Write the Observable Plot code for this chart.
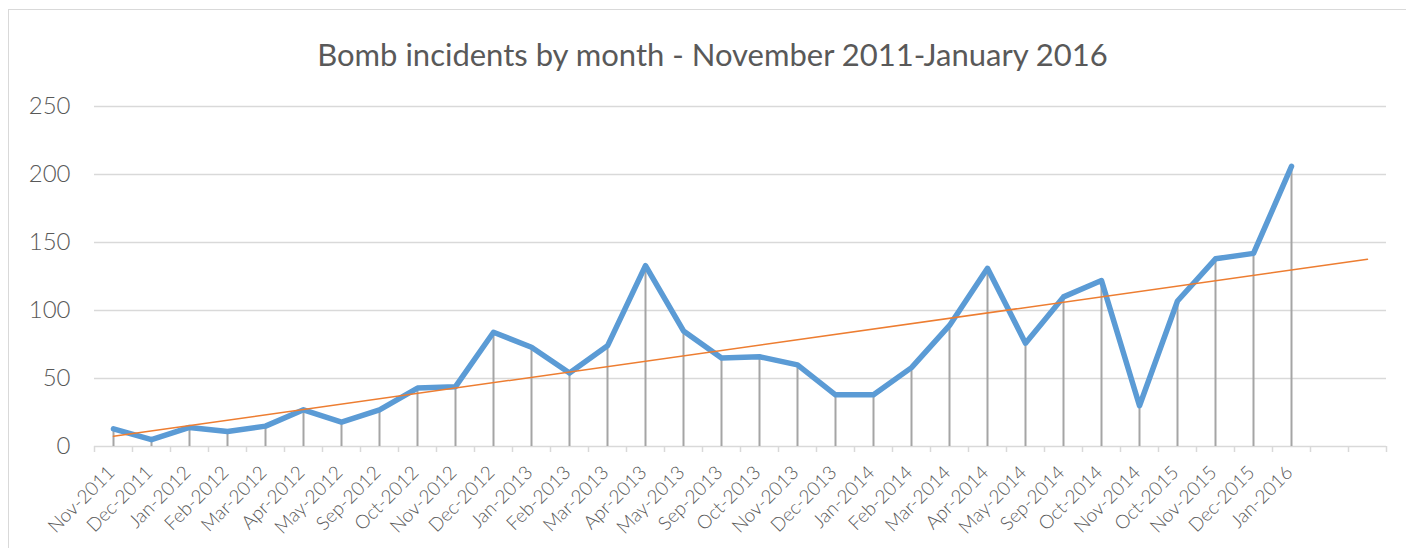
<!DOCTYPE html>
<html>
<head>
<meta charset="utf-8">
<script src="https://cdn.jsdelivr.net/npm/d3@7"></script>
<script src="https://cdn.jsdelivr.net/npm/@observablehq/plot@0.6"></script>
<style>
  html, body { margin: 0; padding: 0; background: #fff; }
  #wrap { position: relative; width: 1406px; height: 548px; overflow: hidden; }
  #frame { position: absolute; left: 8px; top: 9px; width: 1420px; height: 560px; border: 1.5px solid #d9d9d9; box-sizing: border-box; }
  #chart { position: absolute; left: 0; top: 0; }
</style>
</head>
<body>
<div id="wrap"><div id="frame"></div><div id="chart"></div></div>
<script>
const title = "Bomb incidents by month - November 2011-January 2016";
const months = ["Nov-2011","Dec-2011","Jan-2012","Feb-2012","Mar-2012","Apr-2012","May-2012","Sep-2012","Oct-2012","Nov-2012","Dec-2012","Jan-2013","Feb-2013","Mar-2013","Apr-2013","May-2013","Sep-2013","Oct-2013","Nov-2013","Dec-2013","Jan-2014","Feb-2014","Mar-2014","Apr-2014","May-2014","Sep-2014","Oct-2014","Nov-2014","Oct-2015","Nov-2015","Dec-2015","Jan-2016"];
const incidents = [13,5,14,11,15,27,18,27,43,44,84,73,54,74,133,85,65,66,60,38,38,58,89,131,76,110,122,30,107,138,142,206];
const yTicks = [0,50,100,150,200,250];
const forecastPeriods = 2;

const data = months.map((m, i) => ({i, month: m, v: incidents[i]}));
const nCats = months.length + forecastPeriods;

// least-squares trendline, extended forward like the spreadsheet's forecast
const mx = d3.mean(data, d => d.i), my = d3.mean(data, d => d.v);
const slope = d3.sum(data, d => (d.i - mx) * (d.v - my)) / d3.sum(data, d => (d.i - mx) ** 2);
const intercept = my - slope * mx;
const trend = [0, nCats - 1].map(x => ({x, y: intercept + slope * x}));

const boundaries = d3.range(nCats + 1).map(k => k - 0.5);
const font = "Lato, 'Open Sans', sans-serif";

const plot = Plot.plot({
  width: 1406,
  height: 548,
  marginLeft: 94,
  marginRight: 20,
  marginTop: 106,
  marginBottom: 102,
  style: {fontFamily: font, background: "transparent", overflow: "visible"},
  x: {domain: [-0.5, nCats - 0.5], axis: null},
  y: {domain: [0, 250], axis: null},
  marks: [
    Plot.ruleY(yTicks, {stroke: "#d9d9d9", strokeWidth: 1.5}),
    Plot.axisX({ticks: boundaries, tickSize: 6, tickFormat: () => "", stroke: "#d9d9d9", strokeWidth: 1.5, label: null}),
    Plot.axisY({ticks: yTicks, tickSize: 0, tickPadding: 24, fontSize: 24, fontWeight: 300, fill: "#595959", label: null}),
    Plot.ruleX(data, {x: "i", y1: 0, y2: "v", stroke: "#a5a5a5", strokeWidth: 2}),
    Plot.line(data, {x: "i", y: "v", stroke: "#5B9BD5", strokeWidth: 5.5, strokeLinejoin: "round", strokeLinecap: "round"}),
    Plot.line(trend, {x: "x", y: "y", stroke: "#ED7D31", strokeWidth: 1.5}),
    Plot.text(data, {x: "i", y: 0, text: "month", rotate: -45, textAnchor: "end", lineAnchor: "middle", dx: -2, dy: 23, fontSize: 19, fontWeight: 300, fill: "#595959"}),
    Plot.text([title], {frameAnchor: "top", text: d => d, lineAnchor: "bottom", dy: -41, dx: -28, fontSize: 31, fill: "#595959"})
  ]
});
document.getElementById("chart").appendChild(plot);
</script>
</body>
</html>
